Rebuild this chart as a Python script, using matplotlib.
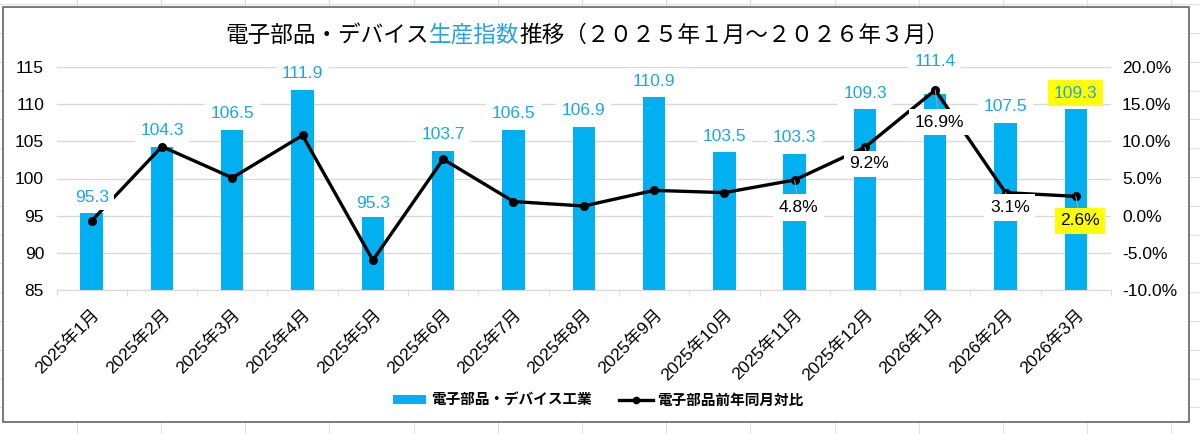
import numpy as np
import matplotlib
matplotlib.use('Agg')
import matplotlib.pyplot as plt
from matplotlib.lines import Line2D
from matplotlib.patches import Rectangle, Patch

plt.rcParams['font.family'] = ['Liberation Sans', 'Noto Sans CJK JP', 'DejaVu Sans']

months = ['2025年1月', '2025年2月', '2025年3月', '2025年4月', '2025年5月', '2025年6月',
          '2025年7月', '2025年8月', '2025年9月', '2025年10月', '2025年11月', '2025年12月',
          '2026年1月', '2026年2月', '2026年3月']
index_vals = [95.3, 104.3, 106.5, 111.9, 95.0, 103.7, 106.5, 106.9, 110.9, 103.5,
              103.3, 109.3, 111.4, 107.5, 109.3]
index_labels = ['95.3', '104.3', '106.5', '111.9', '95.3', '103.7', '106.5', '106.9',
                '110.9', '103.5', '103.3', '109.3', '111.4', '107.5', '109.3']
yoy = [-0.7, 9.3, 5.1, 10.8, -6.0, 7.6, 1.9, 1.3, 3.4, 3.1, 4.8, 9.2, 16.9, 3.1, 2.6]
# only these points carry a label in the original
yoy_labeled = {10: '4.8%', 11: '9.2%', 12: '16.9%', 13: '3.1%', 14: '2.6%'}

W, H = 1200, 434
BLUE = '#00B0F0'
LBLUE = '#1AA7E6'

fig = plt.figure(figsize=(12, 4.34), dpi=100)

# spreadsheet cells behind the chart
for k in range(15):
    xp = (76.7 + k * 84.2) / W
    fig.add_artist(Line2D([xp, xp], [0, 1], transform=fig.transFigure,
                          color='#E2E2E2', lw=0.8, zorder=-3))
for k in range(16):
    yp = 1 - (4.2 + k * 28.8) / H
    fig.add_artist(Line2D([0, 1], [yp, yp], transform=fig.transFigure,
                          color='#E2E2E2', lw=0.8, zorder=-3))
fig.add_artist(Rectangle((3 / W, 1 - 421.7 / H), (1189 - 3) / W, (421.7 - 7) / H,
                         transform=fig.transFigure, facecolor='white',
                         edgecolor='#707070', lw=1.3, zorder=-2))

ax = fig.add_axes([56.5 / W, 1 - 290 / H, (1111 - 56.5) / W, (290 - 67) / H])
ax.patch.set_visible(False)
x = np.arange(len(months))

ax.bar(x, index_vals, width=0.32, color=BLUE, zorder=2)
ax.set_xlim(-0.5, len(months) - 0.5)
ax.set_ylim(85, 115)
ax.set_yticks(np.arange(85, 116, 5))
ax.grid(axis='y', color='#D9D9D9', lw=1)
ax.set_axisbelow(True)
for s in ['top', 'left', 'right']:
    ax.spines[s].set_visible(False)
ax.spines['bottom'].set_color('#D9D9D9')
ax.tick_params(axis='y', length=0, pad=9, labelsize=12.5)
ax.set_xticks(x)
ax.set_xticklabels(months, rotation=45, ha='right', rotation_mode='anchor', fontsize=12.5)
ax.set_xticks(np.arange(-0.5, len(months), 1), minor=True)
ax.tick_params(axis='x', which='major', length=0, pad=12)
ax.tick_params(axis='x', which='minor', length=4, color='#D9D9D9')

ax2 = ax.twinx()
ax2.plot(x, yoy, color='black', lw=2.4, marker='o', ms=5.5, zorder=3)
ax2.set_ylim(-10, 20)
ax2.set_yticks(np.arange(-10, 21, 5))
ax2.set_yticklabels([f'{v:.1f}%' for v in np.arange(-10, 21, 5)])
for s in ax2.spines.values():
    s.set_visible(False)
ax2.tick_params(axis='y', length=0, pad=8, labelsize=12.5)

# bar value labels (drawn on ax2 so they sit above the line)
for i, (v, lab) in enumerate(zip(index_vals, index_labels)):
    off = 4.4 if i == 12 else 2.2
    if i == 4:
        off = 1.6
    fc = '#FFFF00' if i == len(months) - 1 else 'white'
    ax2.text(i, v + off, lab, transform=ax.transData, ha='center', va='center',
             color=LBLUE, fontsize=12.5, zorder=6, clip_on=False,
             bbox=dict(facecolor=fc, edgecolor='none', pad=4))

# percentage labels with leader lines
lab_y = {10: 1.1, 11: 7.0, 12: 12.6, 13: 1.1, 14: -0.7}
for i, txt in yoy_labeled.items():
    fc = '#FFFF00' if i == len(months) - 1 else 'white'
    ax2.annotate(txt, xy=(i, yoy[i]), xytext=(i + 0.06, lab_y[i]),
                 ha='center', va='center', fontsize=12.5, color='black', zorder=7,
                 bbox=dict(facecolor=fc, edgecolor='none', pad=4),
                 arrowprops=dict(arrowstyle='-', color='#A6A6A6', lw=0.7,
                                 shrinkA=0, shrinkB=0))

# legend
handles = [Patch(facecolor=BLUE, edgecolor='none'),
           Line2D([], [], color='black', lw=2.4, marker='o', ms=4.5)]
fig.legend(handles, ['電子部品・デバイス工業', '電子部品前年同月対比'],
           loc='center', bbox_to_anchor=(598 / W, 1 - 400 / H), ncol=2, frameon=False,
           prop={'family': ['Noto Sans CJK JP'], 'size': 10.5, 'weight': 'bold'},
           handlelength=2.3, handleheight=0.55, handletextpad=0.3, columnspacing=1.9)

# title in three colours
parts = [('電子部品・デバイス', 'black'), ('生産指数', '#29A3DE'),
         ('推移（２０２５年１月～２０２６年３月）', 'black')]
texts = [fig.text(0, 1 - 35 / H, p, color=c, fontsize=16.3, va='center', ha='left',
                  family=['Noto Sans CJK JP']) for p, c in parts]
r = fig.canvas.get_renderer()
widths = [t.get_window_extent(renderer=r).width for t in texts]
x0 = 587 - sum(widths) / 2
for t, w in zip(texts, widths):
    t.set_x(x0 / W)
    x0 += w

fig.savefig('out.png', dpi=100)
